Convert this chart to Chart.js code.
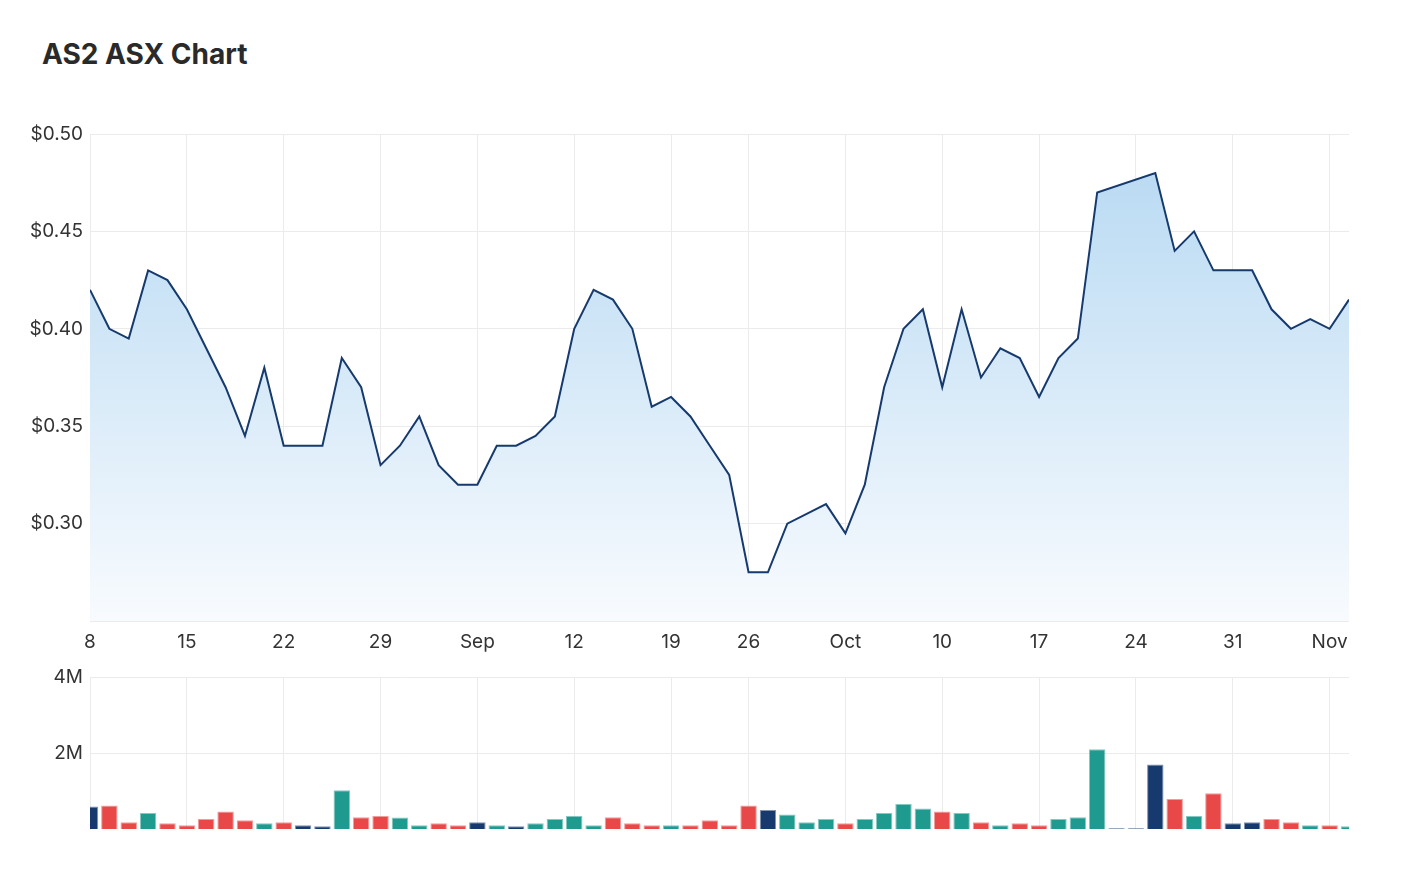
<!DOCTYPE html>
<html>
<head>
<meta charset="utf-8">
<title>AS2 ASX Chart</title>
<script src="https://cdn.jsdelivr.net/npm/chart.js@4"></script>
<style>
    body { margin: 0; background: #fff; font-family: Inter, "Noto Sans", sans-serif; }
    .title { position: absolute; left: 42px; top: 40px; font-size: 28px; line-height: 28px; font-weight: 700; color: #2a2a2a; }
    .price-box { position: absolute; left: 0; top: 110px; width: 1349px; height: 550px; }
    .volume-box { position: absolute; left: 0; top: 660px; width: 1349px; height: 175px; }
</style>
</head>
<body>
<div class="title">AS2 ASX Chart</div>
<div class="price-box"><canvas id="priceChart"></canvas></div>
<div class="volume-box"><canvas id="volumeChart"></canvas></div>

<script>
// trading days shown (ASX closed 22 Sep)
const dates = [
    '2022-08-08', '2022-08-09', '2022-08-10', '2022-08-11', '2022-08-12',
    '2022-08-15', '2022-08-16', '2022-08-17', '2022-08-18', '2022-08-19',
    '2022-08-22', '2022-08-23', '2022-08-24', '2022-08-25', '2022-08-26',
    '2022-08-29', '2022-08-30', '2022-08-31', '2022-09-01', '2022-09-02',
    '2022-09-05', '2022-09-06', '2022-09-07', '2022-09-08', '2022-09-09',
    '2022-09-12', '2022-09-13', '2022-09-14', '2022-09-15', '2022-09-16',
    '2022-09-19', '2022-09-20', '2022-09-21', '2022-09-23',
    '2022-09-26', '2022-09-27', '2022-09-28', '2022-09-29', '2022-09-30',
    '2022-10-03', '2022-10-04', '2022-10-05', '2022-10-06', '2022-10-07',
    '2022-10-10', '2022-10-11', '2022-10-12', '2022-10-13', '2022-10-14',
    '2022-10-17', '2022-10-18', '2022-10-19', '2022-10-20', '2022-10-21',
    '2022-10-24', '2022-10-25', '2022-10-26', '2022-10-27', '2022-10-28',
    '2022-10-31', '2022-11-01', '2022-11-02', '2022-11-03', '2022-11-04',
    '2022-11-07', '2022-11-08'
];

// closing price ($), null = no trade
const prices = [
    0.42, 0.40, 0.395, 0.43, 0.425, 0.41, 0.39, 0.37, 0.345, 0.38,
    0.34, 0.34, 0.34, 0.385, 0.37, 0.33, 0.34, 0.355, 0.33, 0.32,
    0.32, 0.34, 0.34, 0.345, 0.355, 0.40, 0.42, 0.415, 0.40, 0.36,
    0.365, 0.355, 0.34, 0.325, 0.275, 0.275, 0.30, 0.305, 0.31, 0.295,
    0.32, 0.37, 0.40, 0.41, 0.37, 0.41, 0.375, 0.39, 0.385, 0.365,
    0.385, 0.395, 0.47, null, null, 0.48, 0.44, 0.45, 0.43, 0.43,
    0.43, 0.41, 0.40, 0.405, 0.40, 0.415
];

// daily volume (shares)
const volumes = [
    590000, 620000, 180000, 420000, 150000, 100000, 260000, 460000, 230000, 150000,
    180000, 100000, 70000, 1020000, 310000, 340000, 300000, 100000, 150000, 100000,
    180000, 100000, 70000, 150000, 260000, 340000, 100000, 310000, 150000, 100000,
    100000, 100000, 230000, 100000, 620000, 500000, 380000, 180000, 260000, 150000,
    260000, 420000, 660000, 540000, 460000, 420000, 180000, 100000, 150000, 100000,
    260000, 310000, 2100000, 20000, 20000, 1700000, 790000, 340000, 940000, 150000,
    180000, 260000, 180000, 100000, 100000, 70000
];

const tickDates = ['2022-08-08', '2022-08-15', '2022-08-22', '2022-08-29', '2022-09-05', '2022-09-12', '2022-09-19',
    '2022-09-26', '2022-10-03', '2022-10-10', '2022-10-17', '2022-10-24', '2022-10-31', '2022-11-07', '2022-11-08'];
const tickLabels = ['8', '15', '22', '29', 'Sep', '12', '19', '26', 'Oct', '10', '17', '24', '31', 'Nov', ''];

const priceTicks = [0.30, 0.35, 0.40, 0.45, 0.50];
const volumeTicks = [2000000, 4000000];
const volumeTickLabels = ['2M', '4M'];

const NAVY = '#163a6e';
const RED = '#e84848';
const TEAL = '#1f9a8f';
const GRID = '#ebebeb';

Chart.defaults.font.family = 'Inter, "Noto Sans", sans-serif';
Chart.defaults.font.size = 19;
Chart.defaults.color = '#333';
Chart.defaults.animation = false;

const tickIndex = tickDates.map(d => dates.indexOf(d));

function xTicks(scale) {
    scale.ticks = tickIndex.map(v => ({ value: v }));
}

function xLabel(value) {
    const k = tickIndex.indexOf(value);
    return k >= 0 ? tickLabels[k] : '';
}

// fixed axis sizes, no extra label padding
function fixWidth(s) {
    s.width = 90;
    s.paddingTop = 0;
    s.paddingBottom = 0;
}

// up / down / unchanged vs previous close
function barColor(i, alpha) {
    const cur = prices[i], prev = i > 0 ? prices[i - 1] : null;
    let c = NAVY;
    if (cur != null && prev != null) {
        if (cur > prev) c = TEAL;
        else if (cur < prev) c = RED;
    }
    if (alpha == null) return c;
    const n = parseInt(c.slice(1), 16);
    return `rgba(${n >> 16},${(n >> 8) & 255},${n & 255},${alpha})`;
}

function drawCharts() {
    const priceCtx = document.getElementById('priceChart').getContext('2d');
    new Chart(priceCtx, {
        type: 'line',
        data: {
            datasets: [{
                data: prices.map((p, i) => ({ x: i, y: p })),
                borderColor: NAVY,
                borderWidth: 2,
                pointRadius: 0,
                tension: 0,
                spanGaps: true,
                fill: 'start',
                backgroundColor: function(context) {
                    const area = context.chart.chartArea;
                    if (!area) return 'rgba(189,220,243,0.9)';
                    const g = context.chart.ctx.createLinearGradient(0, area.top, 0, area.bottom);
                    g.addColorStop(0, '#b5d8f2');
                    g.addColorStop(1, '#f8fbfe');
                    return g;
                }
            }]
        },
        options: {
            responsive: true,
            maintainAspectRatio: false,
            layout: { padding: { top: 24, right: 0, bottom: 0, left: 0 } },
            plugins: { legend: { display: false }, tooltip: { enabled: false } },
            scales: {
                x: {
                    type: 'linear',
                    min: 0,
                    max: dates.length - 1,
                    afterBuildTicks: xTicks,
                    afterFit: s => { s.height = 39; s.paddingLeft = 0; s.paddingRight = 0; },
                    grid: { color: GRID, drawTicks: false },
                    border: { color: GRID },
                    ticks: { padding: 10, maxRotation: 0, autoSkip: false, callback: xLabel }
                },
                y: {
                    min: 0.25,
                    max: 0.50,
                    afterBuildTicks: s => { s.ticks = priceTicks.map(v => ({ value: v })); },
                    afterFit: fixWidth,
                    grid: { color: GRID, drawTicks: false },
                    border: { color: GRID },
                    ticks: { padding: 7, callback: v => '$' + v.toFixed(2) }
                }
            }
        }
    });

    const volCtx = document.getElementById('volumeChart').getContext('2d');
    new Chart(volCtx, {
        type: 'bar',
        data: {
            datasets: [{
                data: volumes.map((v, i) => ({ x: i, y: v })),
                backgroundColor: volumes.map((v, i) => barColor(i)),
                borderColor: volumes.map((v, i) => barColor(i, 0.55)),
                borderWidth: 1,
                categoryPercentage: 1,
                barPercentage: 0.85,
                clip: 0
            }]
        },
        options: {
            responsive: true,
            maintainAspectRatio: false,
            layout: { padding: { top: 17, right: 0, bottom: 0, left: 0 } },
            plugins: { legend: { display: false }, tooltip: { enabled: false } },
            scales: {
                x: {
                    type: 'linear',
                    min: 0,
                    max: dates.length - 1,
                    offset: false,
                    afterBuildTicks: xTicks,
                    afterFit: s => { s.height = 6; s.paddingLeft = 0; s.paddingRight = 0; },
                    grid: { color: GRID, drawTicks: false, offset: false },
                    border: { display: false },
                    ticks: { display: false }
                },
                y: {
                    min: 0,
                    max: 4000000,
                    afterBuildTicks: s => { s.ticks = volumeTicks.map(v => ({ value: v })); },
                    afterFit: fixWidth,
                    grid: { color: GRID, drawTicks: false },
                    border: { color: GRID },
                    ticks: { padding: 7, callback: v => volumeTickLabels[volumeTicks.indexOf(v)] }
                }
            }
        }
    });
}

document.addEventListener('DOMContentLoaded', drawCharts);
</script>
</body>
</html>
